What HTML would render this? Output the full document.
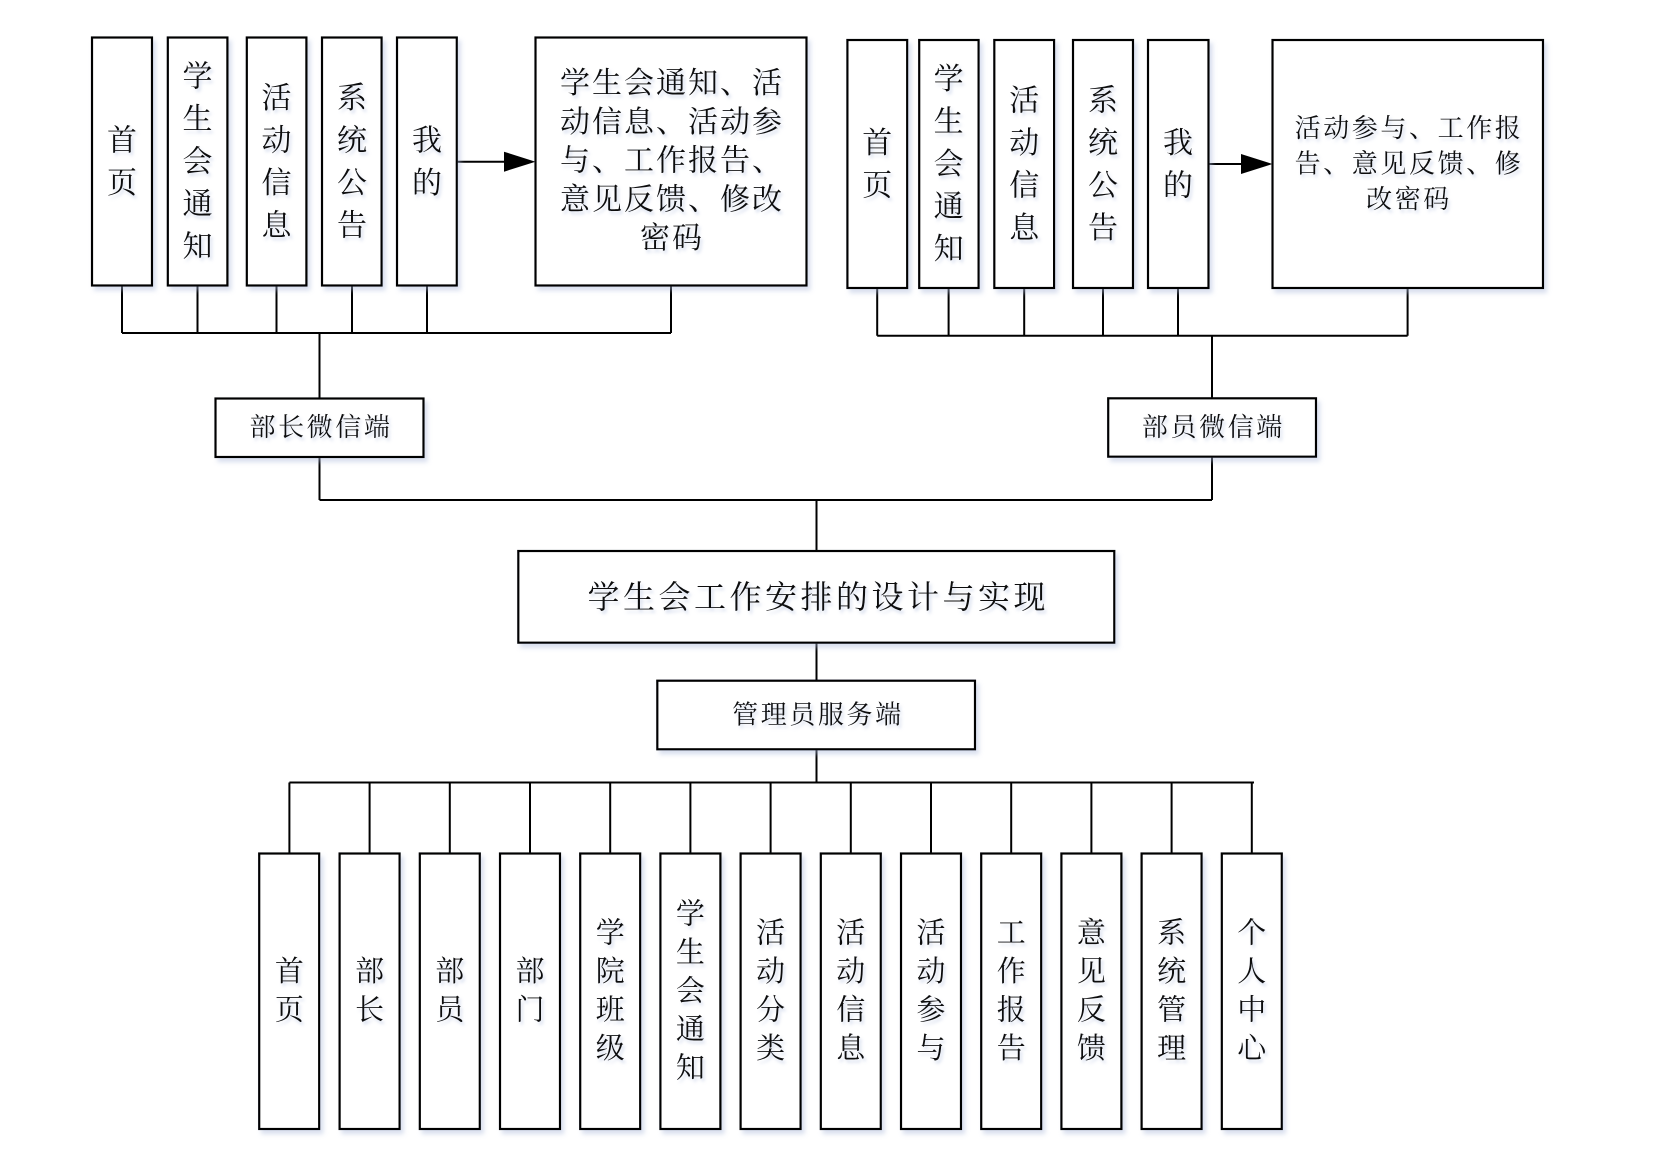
<!DOCTYPE html>
<html><head><meta charset="utf-8"><style>
html,body{margin:0;padding:0;background:#fff;}
svg{display:block;}
text{font-family:"Liberation Serif","Noto Serif CJK SC",serif;fill:#111;}
</style></head><body>
<svg width="1653" height="1167" viewBox="0 0 1653 1167" xmlns="http://www.w3.org/2000/svg">
<defs>
<filter id="sh" x="-20%" y="-20%" width="140%" height="140%">
<feDropShadow dx="3" dy="4" stdDeviation="2.5" flood-color="#aab8da" flood-opacity="0.45"/>
</filter>
<filter id="ts" x="-20%" y="-20%" width="140%" height="140%">
<feDropShadow dx="2" dy="3" stdDeviation="1.5" flood-color="#9fb0d6" flood-opacity="0.45"/>
</filter>
</defs>

<!-- connectors -->
<g stroke="#000" stroke-width="2" fill="none">
<path d="M122 285.5V333M197.5 285.5V333M276.5 285.5V333M352 285.5V333M427 285.5V333M671 285.5V333M122 333H671M319.5 333V398.5M319.5 457V500"/>
<path d="M877.2 288V335.7M948.6 288V335.7M1024.2 288V335.7M1103 288V335.7M1178 288V335.7M1407.6 288V335.7M877.2 335.7H1407.6M1212 335.7V398.3M1212 456.7V500"/>
<path d="M319.5 500H1212M816.5 500V551M816.5 642.7V680.7M816.5 749.3V782.5M289.4 782.5H1254"/>
<path d="M289.4 782.5V853.5M369.6 782.5V853.5M449.8 782.5V853.5M530 782.5V853.5M610.2 782.5V853.5M690.4 782.5V853.5M770.6 782.5V853.5M850.8 782.5V853.5M931 782.5V853.5M1011.2 782.5V853.5M1091.4 782.5V853.5M1171.6 782.5V853.5M1251.8 782.5V853.5"/>
<path d="M457 161.7H505M1208.5 164H1242"/>
</g>
<polygon points="504,151.7 535.5,161.7 504,171.7" fill="#000"/>
<polygon points="1241,154 1272.5,164 1241,174" fill="#000"/>

<!-- boxes -->
<g stroke="#000" stroke-width="2.2" fill="#fff" filter="url(#sh)">
<rect x="92" y="37.5" width="60" height="248"/>
<rect x="167.8" y="37.5" width="59.6" height="248"/>
<rect x="246.8" y="37.5" width="59.6" height="248"/>
<rect x="322" y="37.5" width="59.6" height="248"/>
<rect x="397" y="37.5" width="59.8" height="248"/>
<rect x="535.5" y="37.5" width="271" height="248"/>

<rect x="847.4" y="40" width="59.8" height="248"/>
<rect x="919.2" y="40" width="59.4" height="248"/>
<rect x="994.3" y="40" width="59.8" height="248"/>
<rect x="1073" y="40" width="60" height="248"/>
<rect x="1148" y="40" width="60.5" height="248"/>
<rect x="1272.5" y="40" width="270.5" height="248"/>

<rect x="215.5" y="398.5" width="208" height="58.5"/>
<rect x="1108.2" y="398.3" width="207.8" height="58.4"/>

<rect x="518.3" y="551" width="596" height="91.7"/>
<rect x="657.3" y="680.7" width="317.7" height="68.6"/>

<rect x="259.2" y="853.5" width="60" height="275.5"/>
<rect x="339.6" y="853.5" width="60" height="275.5"/>
<rect x="419.8" y="853.5" width="60" height="275.5"/>
<rect x="500" y="853.5" width="60" height="275.5"/>
<rect x="580.2" y="853.5" width="60" height="275.5"/>
<rect x="660.4" y="853.5" width="60" height="275.5"/>
<rect x="740.6" y="853.5" width="60" height="275.5"/>
<rect x="820.8" y="853.5" width="60" height="275.5"/>
<rect x="901" y="853.5" width="60" height="275.5"/>
<rect x="981.2" y="853.5" width="60" height="275.5"/>
<rect x="1061.4" y="853.5" width="60" height="275.5"/>
<rect x="1141.6" y="853.5" width="60" height="275.5"/>
<rect x="1221.8" y="853.5" width="60" height="275.5"/>
</g>

<g filter="url(#ts)" text-anchor="middle" dominant-baseline="central">
<g font-size="30">
<text><tspan x="122" y="140.25">首</tspan><tspan x="122" y="182.75">页</tspan></text>
<text><tspan x="197.5" y="76.5">学</tspan><tspan x="197.5" y="119">生</tspan><tspan x="197.5" y="161.5">会</tspan><tspan x="197.5" y="204">通</tspan><tspan x="197.5" y="246.5">知</tspan></text>
<text><tspan x="276.5" y="97.75">活</tspan><tspan x="276.5" y="140.25">动</tspan><tspan x="276.5" y="182.75">信</tspan><tspan x="276.5" y="225.25">息</tspan></text>
<text><tspan x="352" y="97.75">系</tspan><tspan x="352" y="140.25">统</tspan><tspan x="352" y="182.75">公</tspan><tspan x="352" y="225.25">告</tspan></text>
<text><tspan x="427" y="140.25">我</tspan><tspan x="427" y="182.75">的</tspan></text>
</g>
<g font-size="30">
<text><tspan x="877.2" y="142.75">首</tspan><tspan x="877.2" y="185.25">页</tspan></text>
<text><tspan x="948.6" y="79">学</tspan><tspan x="948.6" y="121.5">生</tspan><tspan x="948.6" y="164">会</tspan><tspan x="948.6" y="206.5">通</tspan><tspan x="948.6" y="249">知</tspan></text>
<text><tspan x="1024.2" y="100.25">活</tspan><tspan x="1024.2" y="142.75">动</tspan><tspan x="1024.2" y="185.25">信</tspan><tspan x="1024.2" y="227.75">息</tspan></text>
<text><tspan x="1103" y="100.25">系</tspan><tspan x="1103" y="142.75">统</tspan><tspan x="1103" y="185.25">公</tspan><tspan x="1103" y="227.75">告</tspan></text>
<text><tspan x="1178" y="142.75">我</tspan><tspan x="1178" y="185.25">的</tspan></text>
</g>
<g font-size="30" letter-spacing="2">
<text x="672" y="83.5">学生会通知、活</text>
<text x="672" y="122.25">动信息、活动参</text>
<text x="672" y="161">与、工作报告、</text>
<text x="672" y="199.75">意见反馈、修改</text>
<text x="672" y="238.5">密码</text>
</g>
<g font-size="26" letter-spacing="2.6">
<text x="1409" y="128.5">活动参与、工作报</text>
<text x="1409" y="164">告、意见反馈、修</text>
<text x="1409" y="199.5">改密码</text>
</g>
<g font-size="26" letter-spacing="2.6">
<text x="321" y="427.5">部长微信端</text>
<text x="1213.4" y="427.5">部员微信端</text>
<text x="817.9" y="715">管理员服务端</text>
</g>
<text x="818.2" y="597" font-size="32" letter-spacing="3.5">学生会工作安排的设计与实现</text>
<g font-size="29">
<text><tspan x="289.4" y="972">首</tspan><tspan x="289.4" y="1010.5">页</tspan></text>
<text><tspan x="369.6" y="972">部</tspan><tspan x="369.6" y="1010.5">长</tspan></text>
<text><tspan x="449.8" y="972">部</tspan><tspan x="449.8" y="1010.5">员</tspan></text>
<text><tspan x="530" y="972">部</tspan><tspan x="530" y="1010.5">门</tspan></text>
<text><tspan x="610.2" y="933.5">学</tspan><tspan x="610.2" y="972">院</tspan><tspan x="610.2" y="1010.5">班</tspan><tspan x="610.2" y="1049">级</tspan></text>
<text><tspan x="690.4" y="914.25">学</tspan><tspan x="690.4" y="952.75">生</tspan><tspan x="690.4" y="991.25">会</tspan><tspan x="690.4" y="1029.75">通</tspan><tspan x="690.4" y="1068.25">知</tspan></text>
<text><tspan x="770.6" y="933.5">活</tspan><tspan x="770.6" y="972">动</tspan><tspan x="770.6" y="1010.5">分</tspan><tspan x="770.6" y="1049">类</tspan></text>
<text><tspan x="850.8" y="933.5">活</tspan><tspan x="850.8" y="972">动</tspan><tspan x="850.8" y="1010.5">信</tspan><tspan x="850.8" y="1049">息</tspan></text>
<text><tspan x="931" y="933.5">活</tspan><tspan x="931" y="972">动</tspan><tspan x="931" y="1010.5">参</tspan><tspan x="931" y="1049">与</tspan></text>
<text><tspan x="1011.2" y="933.5">工</tspan><tspan x="1011.2" y="972">作</tspan><tspan x="1011.2" y="1010.5">报</tspan><tspan x="1011.2" y="1049">告</tspan></text>
<text><tspan x="1091.4" y="933.5">意</tspan><tspan x="1091.4" y="972">见</tspan><tspan x="1091.4" y="1010.5">反</tspan><tspan x="1091.4" y="1049">馈</tspan></text>
<text><tspan x="1171.6" y="933.5">系</tspan><tspan x="1171.6" y="972">统</tspan><tspan x="1171.6" y="1010.5">管</tspan><tspan x="1171.6" y="1049">理</tspan></text>
<text><tspan x="1251.8" y="933.5">个</tspan><tspan x="1251.8" y="972">人</tspan><tspan x="1251.8" y="1010.5">中</tspan><tspan x="1251.8" y="1049">心</tspan></text>
</g>
</g>
</svg>
</body></html>
